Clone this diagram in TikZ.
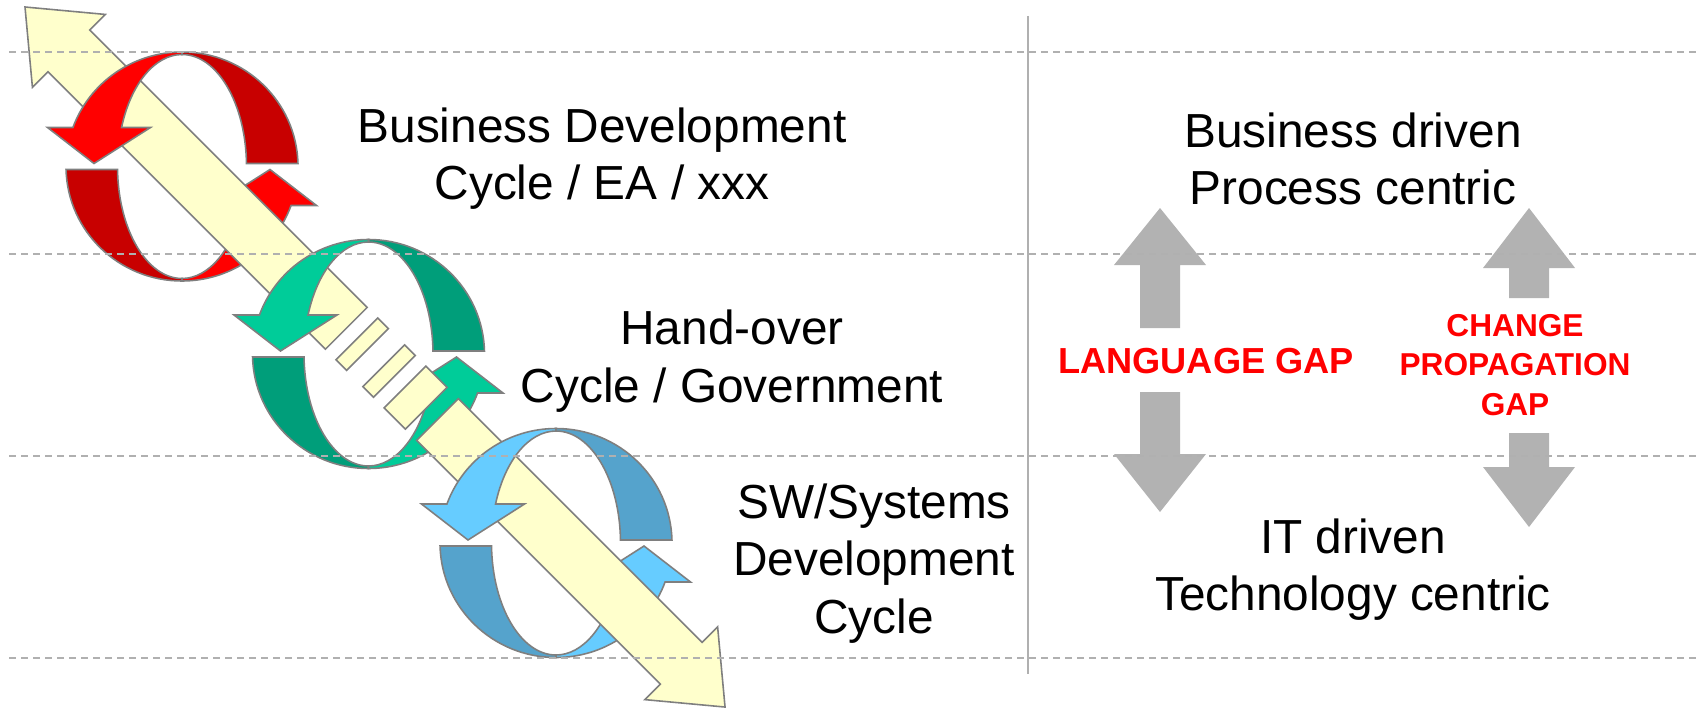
\documentclass[tikz,border=0pt]{standalone}
\usepackage{fontspec}
\setmainfont{Liberation Sans}
\definecolor{redlight}{HTML}{FF0000}
\definecolor{reddark}{HTML}{C80000}
\definecolor{greenlight}{HTML}{00CC99}
\definecolor{greendark}{HTML}{009E7A}
\definecolor{bluelight}{HTML}{66CCFF}
\definecolor{bluedark}{HTML}{55A3CC}
\definecolor{handyellow}{HTML}{FFFFCC}
\definecolor{edgegray}{HTML}{7F7F7F}
\definecolor{gridgray}{HTML}{B0B0B0}
\definecolor{gapgray}{HTML}{B2B2B2}
\tikzset{
  ringline/.style={draw=edgegray, line width=0.45pt, line join=miter},
  gridline/.style={draw=gridgray, line width=0.42pt, dash pattern=on 0.7mm off 0.5mm},
  divider/.style={draw=gridgray, line width=0.5pt},
  gaparrow/.style={fill=gapgray},
  cycletext/.style={inner sep=0pt, anchor=base, align=center, font=\fontsize{13.6}{16.3}\selectfont},
  gaptext/.style={inner sep=0pt, anchor=base, align=center, text=redlight}
}
% back half of a cycle: #1 centre, #2 dark colour, #3 light colour
\newcommand{\ringback}[3]{%
  \begin{scope}[shift={(#1)}]
    \draw[ringline, fill=#2] (0,114.5) arc[start angle=90, end angle=1.5, x radius=116, y radius=114.5]
      -- (64.48,3) arc[start angle=1.535, end angle=90, x radius=64.5, y radius=112] -- cycle;
    \draw[ringline, fill=#2] (0,-114.5) arc[start angle=270, end angle=181.5, x radius=116, y radius=114.5]
      -- (-64.48,-3) arc[start angle=181.535, end angle=270, x radius=64.5, y radius=112] -- cycle;
    \draw[ringline, fill=#3] (0,-114.5) arc[start angle=270, end angle=340.09, x radius=116, y radius=114.5]
      -- (134.5,-39) -- (88,-3) -- (31.5,-39) -- (60.46,-39)
      arc[start angle=339.62, end angle=270, x radius=64.5, y radius=112] -- cycle;
  \end{scope}}
% front half of a cycle: #1 centre, #2 light colour
\newcommand{\ringfront}[2]{%
  \begin{scope}[shift={(#1)}]
    \draw[ringline, fill=#2] (0,114.5) arc[start angle=90, end angle=160.09, x radius=116, y radius=114.5]
      -- (-134.5,39) -- (-88,3) -- (-31.5,39) -- (-60.46,39)
      arc[start angle=159.62, end angle=90, x radius=64.5, y radius=112] -- cycle;
  \end{scope}}

\begin{document}
\begin{tikzpicture}[x=0.1mm,y=0.1mm]
  %%%%% START %%%%%
  \useasboundingbox (0,0) rectangle (1700,709);

  \draw[divider] (1028,693) -- (1028,35);

  % cycles, parts behind the arrow
  \ringback{182,542.5}{reddark}{redlight}
  \ringback{368.5,355}{greendark}{greenlight}
  \ringback{556,166}{bluedark}{bluelight}

  % hand-over arrow
  \begin{scope}[shift={(25,702)}, rotate=-45]
    \draw[ringline, fill=handyellow] (0,0) -- (62,51.5) -- (62,29.5) -- (454.4,29.5)
      -- (454.4,-29.5) -- (62,-29.5) -- (62,-51.5) -- cycle;
    \draw[ringline, fill=handyellow] (469.4,-29.5) rectangle (484.4,29.5);
    \draw[ringline, fill=handyellow] (507.4,-29.5) rectangle (522.4,29.5);
    \draw[ringline, fill=handyellow] (537.4,-29.5) rectangle (567.4,29.5);
    \draw[ringline, fill=handyellow] (583.4,29.5) -- (928,29.5) -- (928,51.5) -- (990,0)
      -- (928,-51.5) -- (928,-29.5) -- (583.4,-29.5) -- cycle;
  \end{scope}

  % cycles, parts in front of the arrow
  \ringfront{182,542.5}{redlight}
  \ringfront{368.5,355}{greenlight}
  \ringfront{556,166}{bluelight}

  % gap arrows
  \fill[gaparrow] (1160,501) -- (1206,444) -- (1180,444) -- (1180,381) -- (1140,381) -- (1140,444) -- (1114,444) -- cycle;
  \fill[gaparrow] (1160,197) -- (1206,255) -- (1180,255) -- (1180,317) -- (1140,317) -- (1140,255) -- (1114,255) -- cycle;
  \fill[gaparrow] (1529,501) -- (1575,441) -- (1549,441) -- (1549,411) -- (1509,411) -- (1509,441) -- (1483,441) -- cycle;
  \fill[gaparrow] (1529,182) -- (1575,242) -- (1549,242) -- (1549,276) -- (1509,276) -- (1509,242) -- (1483,242) -- cycle;

  \foreach \y in {657,455,253,51}
    \draw[gridline] (9,\y) -- (1700,\y);

  % labels (base = baseline of the last line)
  \node[cycletext] (bizcycle) at (602,509.5) {Business Development\\Cycle / EA / xxx};
  \node[cycletext] (handcycle) at (732,307) {Hand-over\\Cycle / Government};
  \node[cycletext] (swcycle) at (874,76) {SW/Systems\\Development\\Cycle};
  \node[cycletext] (bizdriven) at (1353,504.5) {Business driven\\Process centric};
  \node[cycletext] (itdriven) at (1353,98.5) {IT driven\\Technology centric};
  \node[gaptext, font=\bfseries\fontsize{10.3}{12}\selectfont] (langgap) at (1206,336) {LANGUAGE GAP};
  \node[gaptext, font=\bfseries\fontsize{9}{11.1}\selectfont] (changegap) at (1515,294) {CHANGE\\PROPAGATION\\GAP};
  %%%%% END %%%%%
\end{tikzpicture}
\end{document}
